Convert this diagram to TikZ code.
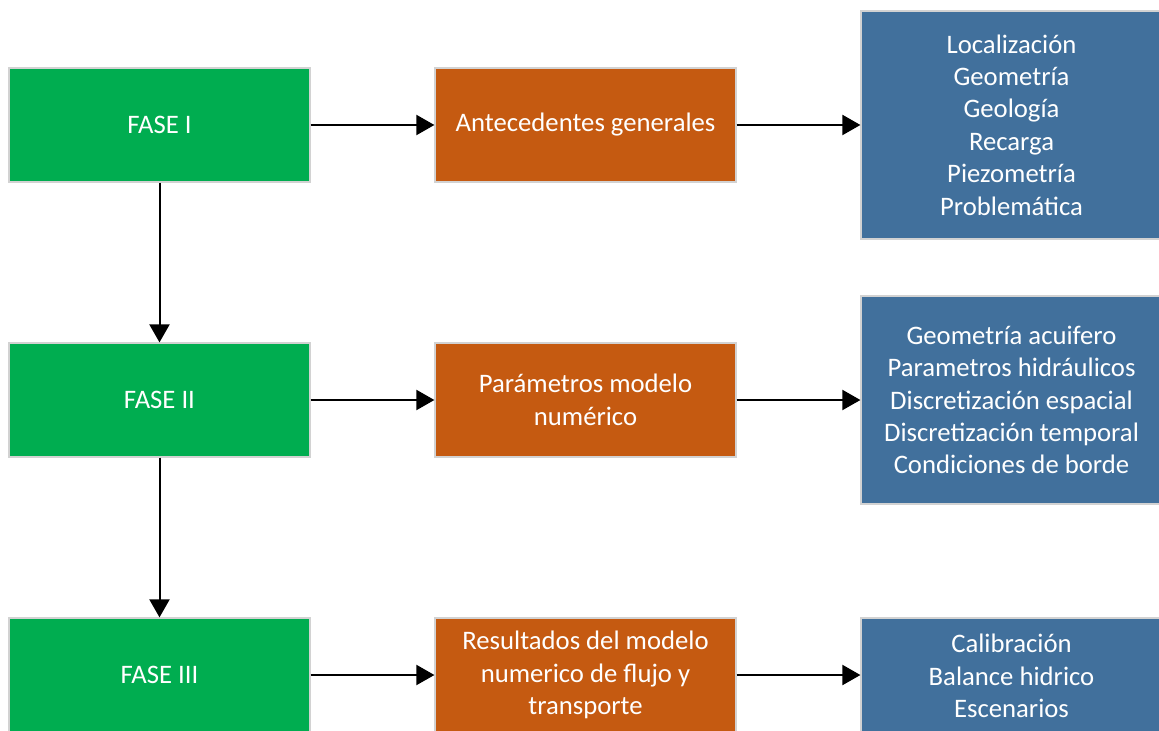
\documentclass[tikz,border=0pt]{standalone}
\usepackage{fontspec}
\setmainfont{Carlito}
\usepackage{tikz}
\usetikzlibrary{arrows.meta}

\definecolor{verde}{HTML}{00AD50}
\definecolor{naranja}{HTML}{C55A11}
\definecolor{azul}{HTML}{41709C}

\tikzset{
    caja/.style={draw=gray!35, line width=0.6pt, text=white, align=center,
        font=\fontsize{13.35}{16.2}\selectfont, inner sep=0pt},
    fase/.style={caja, fill=verde, minimum width=150.5pt, minimum height=57pt},
    tema/.style={caja, fill=naranja, minimum width=150.5pt, minimum height=57pt},
    lista/.style={caja, fill=azul, minimum width=150.5pt},
    flecha/.style={line width=1pt, -{Triangle[length=9pt,width=10pt]}}
}

\begin{document}
\begin{tikzpicture}[x=0.5pt, y=-0.5pt]
    \useasboundingbox (0,0) rectangle (1159,731);
    \clip (0,0) rectangle (1159,731);

    \node[fase] (F1) at (159.5, 125) {FASE I};
    \node[fase] (F2) at (159.5, 400) {FASE II};
    \node[fase] (F3) at (159.5, 675) {FASE III};

    \node[tema] (A1) at (585.5, 125) {Antecedentes generales};
    \node[tema] (A2) at (585.5, 400) {Parámetros modelo\\numérico};
    \node[tema] (A3) at (585.5, 675) {Resultados del modelo\\numerico de flujo y\\transporte};

    \node[lista, minimum height=114pt] (L1) at (1011.5, 125) {Localización\\Geometría\\Geología\\Recarga\\Piezometría\\Problemática};
    \node[lista, minimum height=104pt] (L2) at (1011.5, 400) {Geometría acuifero\\Parametros hidráulicos\\Discretización espacial\\Discretización temporal\\Condiciones de borde};
    \node[lista, minimum height=58pt] (L3) at (1011.5, 676) {Calibración\\Balance hidrico\\Escenarios};

    \draw[flecha] (F1) -- (F2);
    \draw[flecha] (F2) -- (F3);

    \draw[flecha] (F1) -- (A1);
    \draw[flecha] (F2) -- (A2);
    \draw[flecha] (F3) -- (A3);

    \draw[flecha] (A1) -- (L1);
    \draw[flecha] (A2) -- (L2);
    \draw[flecha] (A3.east) -- (A3.east -| L3.west);
\end{tikzpicture}
\end{document}
